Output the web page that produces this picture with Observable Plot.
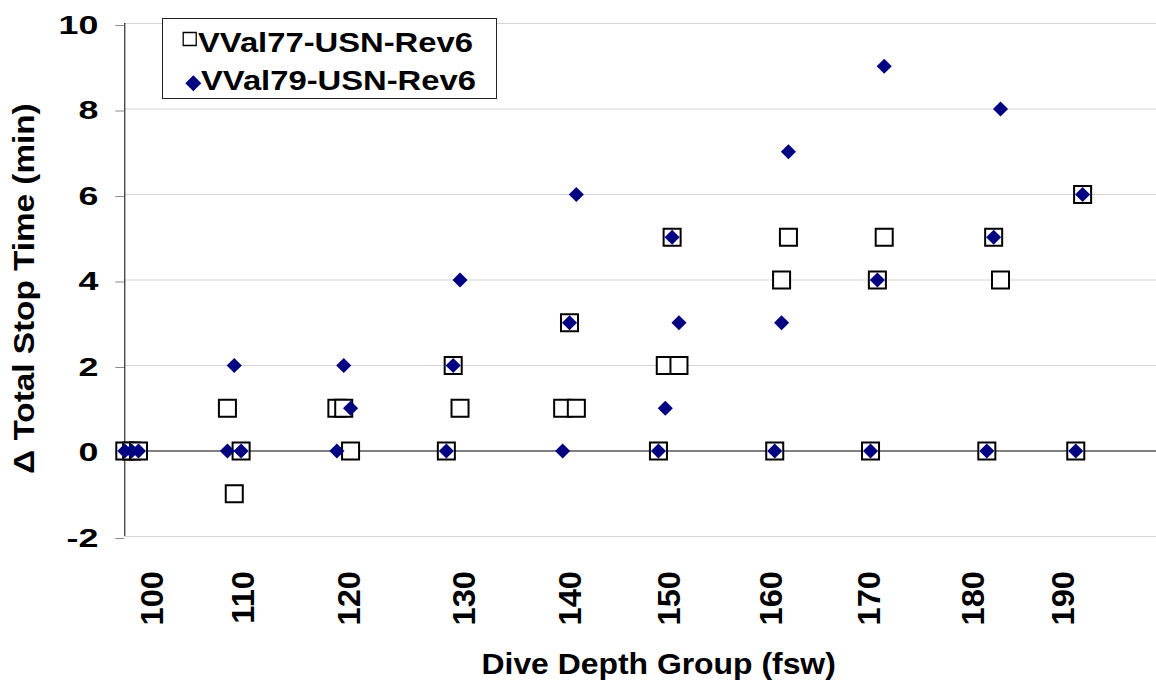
<!DOCTYPE html>
<html><head><meta charset="utf-8">
<script src="https://cdn.jsdelivr.net/npm/d3@7"></script>
<script src="https://cdn.jsdelivr.net/npm/@observablehq/plot@0.6"></script>
<style>body{margin:0;background:#fff}</style>
</head><body><div id="chart"></div>
<script>
// Category index of each dive profile along the x axis
const profileIdx = [0,1,2, 15,16,17, 31,32,33, 47,48,49, 64,65,66, 78,79,80,81, 95,96,97, 109,110,111, 126,127,128, 139,140];
const depthGroup = [100,100,100, 110,110,110, 120,120,120, 130,130,130, 140,140,140, 150,150,150,150, 160,160,160, 170,170,170, 180,180,180, 190,190];
const vval77 = [0,0,0, 1,-1,0, 1,1,0, 0,2,1, 1,3,1, 0,2,5,2, 0,4,5, 0,4,5, 0,5,4, 0,6];
const vval79 = [0,0,0, 0,2,0, 0,2,1, 0,2,4, 0,3,6, 0,1,5,3, 0,3,7, 0,4,9, 0,5,8, 0,6];
const tickPos = [4.1, 17.4, 33, 49.8, 65.2, 79.7, 94.7, 109, 124.1, 137.3];
const tickLabels = ["100","110","120","130","140","150","160","170","180","190"];
const yTicks = [-2,0,2,4,6,8,10];
const seriesNames = ["VVal77-USN-Rev6","VVal79-USN-Rev6"];
const yTitle = "\u0394 Total Stop Time (min)";
const xTitle = "Dive Depth Group (fsw)";

const rows = profileIdx.map((p,i)=>({p, depth: depthGroup[i], v77: vval77[i], v79: vval79[i]}));
const ticks = tickPos.map((p,i)=>({p, label: tickLabels[i]}));
const FONT = '"Liberation Sans", Arial, sans-serif';

const svg = Plot.plot({
  width: 1156, height: 683,
  marginLeft: 124.3, marginRight: 0, marginTop: 23, marginBottom: 147,
  style: {fontFamily: FONT, fontWeight: "bold", background: "white", color: "black", overflow: "visible"},
  x: {domain: [0, 150.8], axis: null},
  y: {domain: [-2, 10], axis: null},
  marks: [
    Plot.gridY(yTicks.filter(d => d !== 0), {stroke: "#d4d4d4", strokeOpacity: 1}),
    Plot.axisY(yTicks, {tickSize: 9, tickPadding: 17.5, stroke: "#8a8a8a", strokeOpacity: 1, fill: "black", fontSize: 26.5, fontWeight: "bold", label: null, dy: 2, tickFormat: d => String(d)}),
    Plot.ruleY([0], {stroke: "black", strokeWidth: 1}),
    Plot.ruleX([0], {stroke: "black", strokeWidth: 1}),
    Plot.dot(rows, {x: "p", y: "v77", symbol: "square", r: 9.6, fill: "white", stroke: "black", strokeWidth: 2}),
    Plot.dot(rows, {x: "p", y: "v79", symbol: "diamond2", r: 6.8, fill: "#000080"}),
    Plot.text(ticks, {x: "p", text: "label", frameAnchor: "bottom", rotate: -90, textAnchor: "end", lineAnchor: "middle", dy: 34.5, fontSize: 30.5, fontWeight: "bold", fill: "black"}),
    Plot.text([yTitle], {text: d => d, frameAnchor: "left", rotate: -90, textAnchor: "middle", lineAnchor: "middle", dx: -100.6, dy: 8.5, fontSize: 30, fontWeight: "bold", fill: "black"}),
    Plot.text([xTitle], {text: d => d, frameAnchor: "bottom", textAnchor: "middle", lineAnchor: "middle", dx: 18, dy: 128.7, fontSize: 29, fontWeight: "bold", fill: "black"})
  ]
});
document.getElementById("chart").append(svg);

function stretchTexts(nodes, k) {
  nodes.forEach(t => {
    const tr = t.getAttribute("transform") || "";
    t.setAttribute("transform", tr + ` scale(${k},1)`);
  });
}
stretchTexts(svg.querySelectorAll('g[aria-label="y-axis tick label"] text'), 1.35);
const textGroups = svg.querySelectorAll('g[aria-label="text"]');
if (textGroups[0]) stretchTexts(textGroups[0].querySelectorAll("text"), 1.07);
if (textGroups[1]) stretchTexts(textGroups[1].querySelectorAll("text"), 1.11);
if (textGroups[2]) stretchTexts(textGroups[2].querySelectorAll("text"), 1.1);

// Legend
const lg = d3.select(svg).append("g").attr("class", "legend");
lg.append("rect").attr("x", 162.5).attr("y", 18.5).attr("width", 334).attr("height", 80)
  .attr("fill", "white").attr("stroke", "#222").attr("stroke-width", 1);
lg.append("path").attr("d", d3.symbol(d3.symbolSquare, 169)())
  .attr("transform", "translate(189.7,39)").attr("fill", "white").attr("stroke", "black").attr("stroke-width", 1.3);
lg.append("path").attr("d", d3.symbol(d3.symbolDiamond2, 163)())
  .attr("transform", "translate(193.3,83.3)").attr("fill", "#000080");
seriesNames.forEach((name, i) => {
  lg.append("text").text(name)
    .attr("transform", `translate(${i === 0 ? 198 : 201},${i === 0 ? 51.7 : 90}) scale(1.17,1)`)
    .attr("font-family", FONT).attr("font-weight", "bold").attr("font-size", 28)
    .attr("fill", "black").attr("text-anchor", "start");
});
</script>
</body></html>
